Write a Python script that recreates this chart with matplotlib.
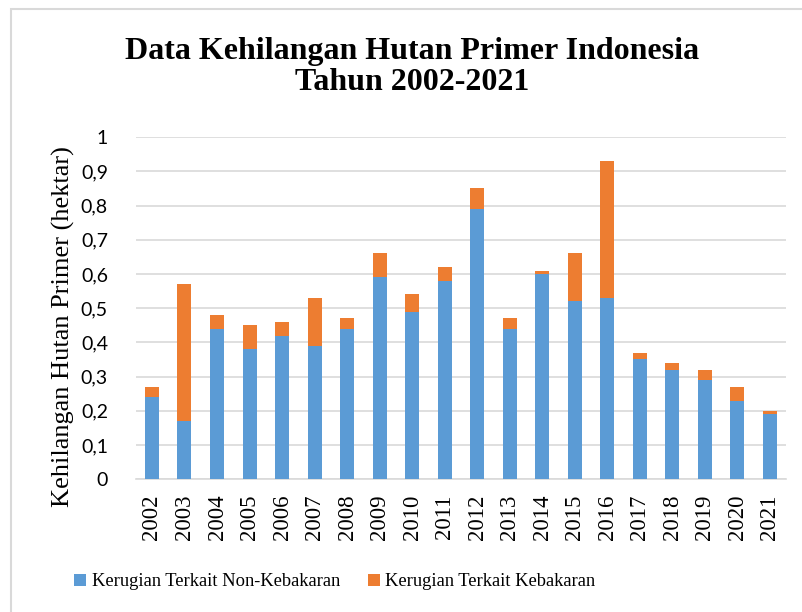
import numpy as np
from matplotlib import pyplot as plt
from matplotlib.patches import Rectangle

years = [str(y) for y in range(2002, 2022)]
non_fire = [0.24, 0.17, 0.44, 0.38, 0.42, 0.39, 0.44, 0.59, 0.49, 0.58,
            0.79, 0.44, 0.60, 0.52, 0.53, 0.35, 0.32, 0.29, 0.23, 0.19]
fire = [0.03, 0.40, 0.04, 0.07, 0.04, 0.14, 0.03, 0.07, 0.05, 0.04,
        0.06, 0.03, 0.01, 0.14, 0.40, 0.02, 0.02, 0.03, 0.04, 0.01]
yticks = [0, 0.1, 0.2, 0.3, 0.4, 0.5, 0.6, 0.7, 0.8, 0.9, 1]
ytick_labels = ["0", "0,1", "0,2", "0,3", "0,4", "0,5", "0,6", "0,7", "0,8", "0,9", "1"]

serif = ["Liberation Serif", "DejaVu Serif"]

fig = plt.figure(figsize=(8.03, 6.12), dpi=100)
ax = fig.add_axes([0.169, 0.217, 0.81, 0.559])

# light frame around the chart, like the exported Excel chart
fig.patches.append(Rectangle((11 / 803, -0.05), 1.2, 1 - 9 / 612 + 0.05,
                             transform=fig.transFigure, fill=False,
                             edgecolor="#d9d9d9", linewidth=1.5))

x = np.arange(len(years))
ax.bar(x, non_fire, width=0.43, color="#5B9BD5", label="Kerugian Terkait Non-Kebakaran", zorder=3)
ax.bar(x, fire, width=0.43, bottom=non_fire, color="#ED7D31", label="Kerugian Terkait Kebakaran", zorder=3)

ax.set_xlim(-0.5, len(years) - 0.5)
ax.set_ylim(0, 1)
ax.set_yticks(yticks)
ax.set_yticklabels(ytick_labels, fontfamily="Lato", fontsize=14)
ax.set_xticks(x)
ax.set_xticklabels(years, rotation=90, fontfamily=serif, fontsize=16.5)
ax.tick_params(axis="x", length=0, pad=11)
ax.tick_params(axis="y", length=0, pad=20)
ax.grid(axis="y", color="#d9d9d9", linewidth=1.2, zorder=0)
for s in ["top", "right", "left"]:
    ax.spines[s].set_visible(False)
ax.spines["bottom"].set_color("#d9d9d9")
ax.spines["bottom"].set_linewidth(1.2)

ax.set_ylabel("Kehilangan Hutan Primer (hektar)", fontfamily=serif, fontsize=19)
ax.yaxis.set_label_coords(-0.094, 0.445)

fig.text(412 / 803, 1 - 67 / 612, "Data Kehilangan Hutan Primer Indonesia\nTahun 2002-2021",
         ha="center", va="center", fontfamily=serif, fontweight="bold", fontsize=23,
         linespacing=1.1)

fig.legend(loc="center", bbox_to_anchor=(335 / 803, 1 - 582 / 612), ncol=2, frameon=False,
           prop={"family": serif, "size": 13.3}, handlelength=0.65, handleheight=0.65,
           handletextpad=0.3, columnspacing=1.5)

fig.savefig("out.png", dpi=100)
